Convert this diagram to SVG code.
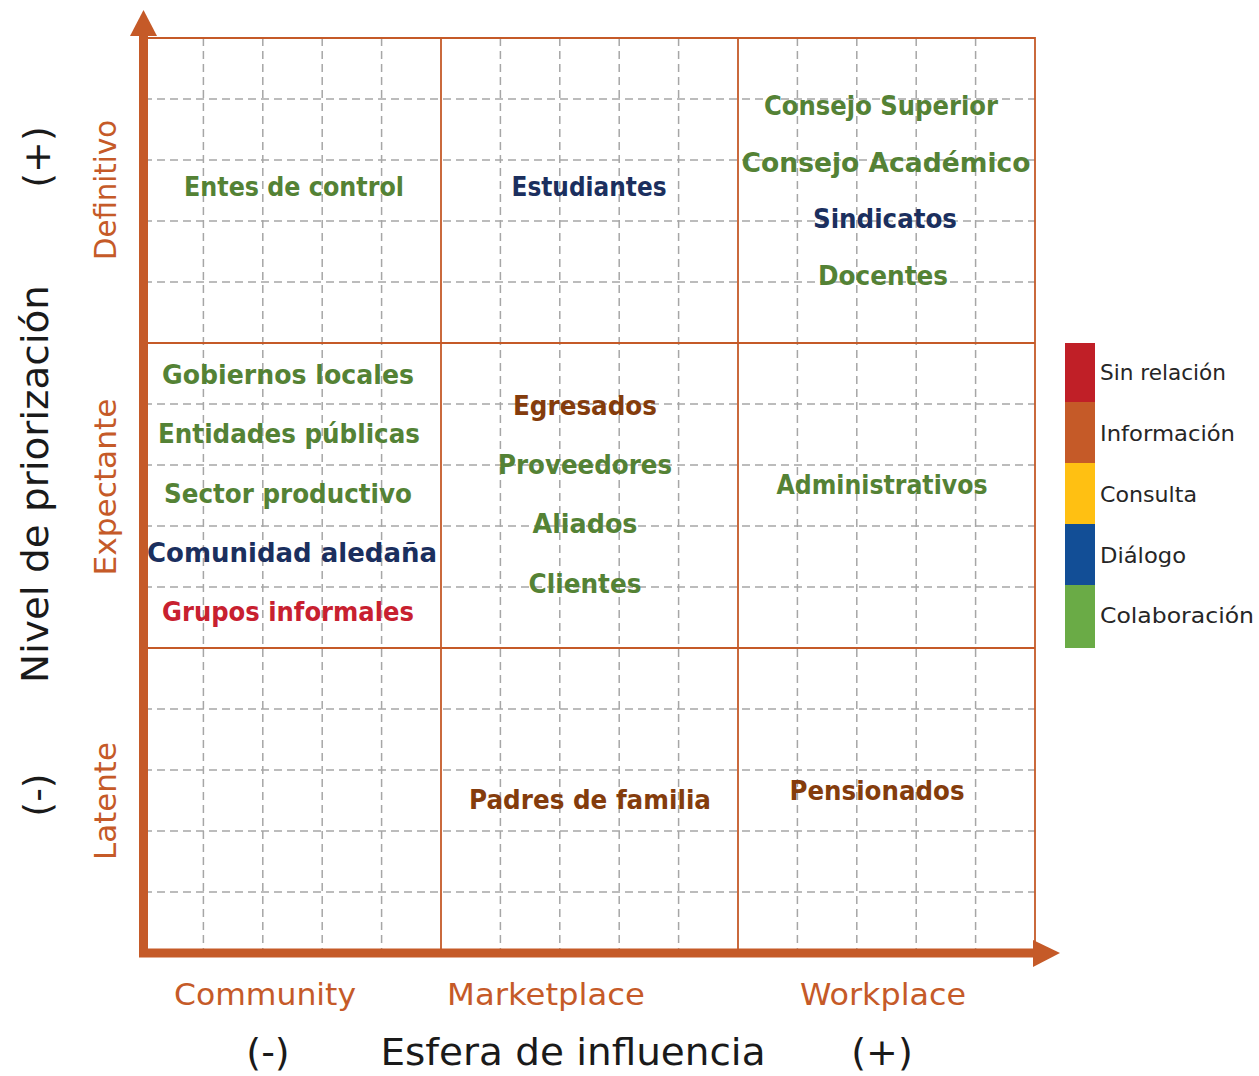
<svg xmlns="http://www.w3.org/2000/svg" width="1259" height="1076" viewBox="0 0 1259 1076">
<style>
.bg{fill:#ffffff}
.dash{stroke:#a6a6a6;stroke-width:1.5;stroke-dasharray:8 5;fill:none}
.major{stroke:#c55a28;stroke-width:1.8;fill:none}
.axis{stroke:#c55a28;stroke-width:9;fill:none}
.head{fill:#c55a28}
.lbl{font-family:"DejaVu Sans","Liberation Sans",sans-serif;font-weight:bold;font-size:27px;text-anchor:middle}
.g{fill:#548235}
.n{fill:#1b2f5e}
.b{fill:#843c0c}
.r{fill:#c8202f}
.cat{font-family:"DejaVu Sans","Liberation Sans",sans-serif;font-size:31px;fill:#c55a28;text-anchor:middle}
.ttl{font-family:"DejaVu Sans","Liberation Sans",sans-serif;font-size:38px;fill:#1a1a1a;text-anchor:middle}
.leg{font-family:"DejaVu Sans","Liberation Sans",sans-serif;font-size:21px;fill:#262626}
</style>
<rect class="bg" x="0" y="0" width="1259" height="1076"/>
<g id="grid">
  <path class="dash" d="M203.4 38V953M262.8 38V953M322.2 38V953M381.6 38V953M500.4 38V953M559.8 38V953M619.2 38V953M678.6 38V953M797.4 38V953M856.8 38V953M916.2 38V953M975.6 38V953"/>
  <path class="dash" d="M144 99H1035M144 160H1035M144 221H1035M144 282H1035M144 404H1035M144 465H1035M144 526H1035M144 587H1035M144 709H1035M144 770H1035M144 831H1035M144 892H1035"/>
  <path class="major" d="M144 38H1035V953M441 38V953M738 38V953M144 343H1035M144 648H1035"/>
</g>
<g id="axes">
  <path class="axis" d="M143.5 957V34"/>
  <polygon class="head" points="143.5,10 130,36 157,36"/>
  <path class="axis" d="M139 953H1035"/>
  <polygon class="head" points="1060,953 1033,940 1033,967"/>
</g>
<g id="labels-y">
  <text class="ttl" transform="translate(48,484) rotate(-90)" textLength="398" lengthAdjust="spacingAndGlyphs">Nivel de priorización</text>
  <text class="ttl" transform="translate(50,157) rotate(-90)">(+)</text>
  <text class="ttl" transform="translate(50,795) rotate(-90)">(-)</text>
  <text class="cat" transform="translate(116,190) rotate(-90)" textLength="140" lengthAdjust="spacingAndGlyphs">Definitivo</text>
  <text class="cat" transform="translate(116,487) rotate(-90)" textLength="177" lengthAdjust="spacingAndGlyphs">Expectante</text>
  <text class="cat" transform="translate(116,801) rotate(-90)" textLength="118" lengthAdjust="spacingAndGlyphs">Latente</text>
</g>
<g id="labels-x">
  <text class="cat" x="265" y="1005" textLength="182" lengthAdjust="spacingAndGlyphs">Community</text>
  <text class="cat" x="546" y="1005" textLength="198" lengthAdjust="spacingAndGlyphs">Marketplace</text>
  <text class="cat" x="883" y="1005" textLength="166" lengthAdjust="spacingAndGlyphs">Workplace</text>
  <text class="ttl" x="268" y="1065">(-)</text>
  <text class="ttl" x="573" y="1065" textLength="385" lengthAdjust="spacingAndGlyphs">Esfera de influencia</text>
  <text class="ttl" x="882" y="1065">(+)</text>
</g>
<g id="node-entes"><text class="lbl g" x="294" y="196" textLength="220" lengthAdjust="spacingAndGlyphs">Entes de control</text></g>
<g id="node-estudiantes"><text class="lbl n" x="589" y="196" textLength="155" lengthAdjust="spacingAndGlyphs">Estudiantes</text></g>
<g id="node-consejo-superior"><text class="lbl g" x="881" y="115" textLength="234" lengthAdjust="spacingAndGlyphs">Consejo Superior</text></g>
<g id="node-consejo-academico"><text class="lbl g" x="886" y="172" textLength="289" lengthAdjust="spacingAndGlyphs">Consejo Académico</text></g>
<g id="node-sindicatos"><text class="lbl n" x="885" y="228" textLength="144" lengthAdjust="spacingAndGlyphs">Sindicatos</text></g>
<g id="node-docentes"><text class="lbl g" x="883" y="285" textLength="130" lengthAdjust="spacingAndGlyphs">Docentes</text></g>
<g id="node-gobiernos"><text class="lbl g" x="288" y="384" textLength="252" lengthAdjust="spacingAndGlyphs">Gobiernos locales</text></g>
<g id="node-entidades"><text class="lbl g" x="289" y="443" textLength="262" lengthAdjust="spacingAndGlyphs">Entidades públicas</text></g>
<g id="node-sector"><text class="lbl g" x="288" y="503" textLength="248" lengthAdjust="spacingAndGlyphs">Sector productivo</text></g>
<g id="node-comunidad"><text class="lbl n" x="292" y="562" textLength="290" lengthAdjust="spacingAndGlyphs">Comunidad aledaña</text></g>
<g id="node-grupos"><text class="lbl r" x="288" y="621" textLength="252" lengthAdjust="spacingAndGlyphs">Grupos informales</text></g>
<g id="node-egresados"><text class="lbl b" x="585" y="415" textLength="144" lengthAdjust="spacingAndGlyphs">Egresados</text></g>
<g id="node-proveedores"><text class="lbl g" x="585" y="474" textLength="174" lengthAdjust="spacingAndGlyphs">Proveedores</text></g>
<g id="node-aliados"><text class="lbl g" x="585" y="533" textLength="105" lengthAdjust="spacingAndGlyphs">Aliados</text></g>
<g id="node-clientes"><text class="lbl g" x="585" y="593" textLength="113" lengthAdjust="spacingAndGlyphs">Clientes</text></g>
<g id="node-administrativos"><text class="lbl g" x="882" y="494" textLength="211" lengthAdjust="spacingAndGlyphs">Administrativos</text></g>
<g id="node-padres"><text class="lbl b" x="590" y="809" textLength="242" lengthAdjust="spacingAndGlyphs">Padres de familia</text></g>
<g id="node-pensionados"><text class="lbl b" x="877" y="800" textLength="175" lengthAdjust="spacingAndGlyphs">Pensionados</text></g>
<g id="legend">
  <rect x="1065" y="343" width="30" height="59" fill="#c01f27"/>
  <rect x="1065" y="402" width="30" height="61" fill="#c55a28"/>
  <rect x="1065" y="463" width="30" height="61" fill="#ffc012"/>
  <rect x="1065" y="524" width="30" height="61" fill="#124e96"/>
  <rect x="1065" y="585" width="30" height="63" fill="#6aab46"/>
  <text class="leg" x="1100" y="380" textLength="126" lengthAdjust="spacingAndGlyphs">Sin relación</text>
  <text class="leg" x="1100" y="441" textLength="135" lengthAdjust="spacingAndGlyphs">Información</text>
  <text class="leg" x="1100" y="502" textLength="97" lengthAdjust="spacingAndGlyphs">Consulta</text>
  <text class="leg" x="1100" y="563" textLength="86" lengthAdjust="spacingAndGlyphs">Diálogo</text>
  <text class="leg" x="1100" y="623" textLength="154" lengthAdjust="spacingAndGlyphs">Colaboración</text>
</g>
</svg>
